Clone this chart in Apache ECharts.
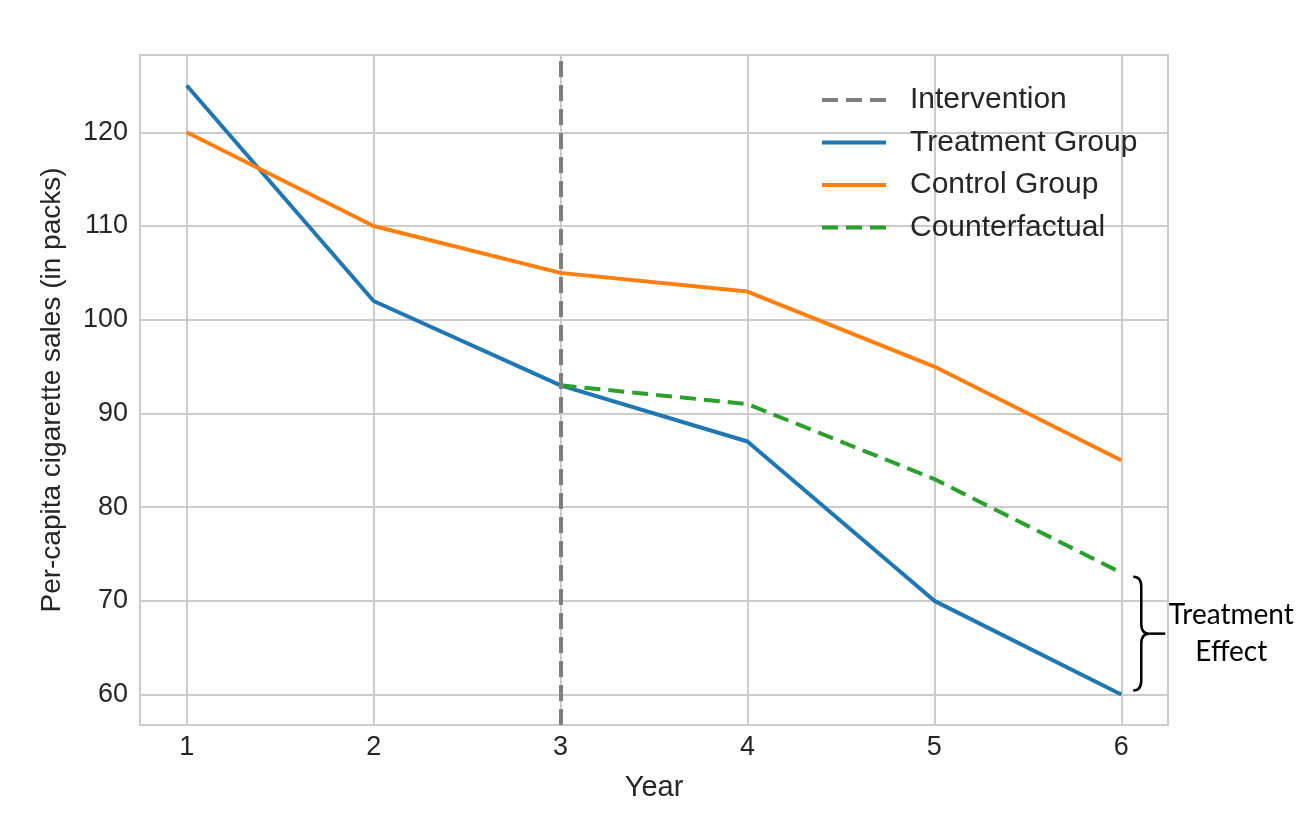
<!DOCTYPE html>
<html><head><meta charset="utf-8">
<script src="https://cdn.jsdelivr.net/npm/echarts@6/dist/echarts.min.js"></script>
<style>html,body{margin:0;padding:0;background:#fff}#c{width:1302px;height:835px}</style>
</head><body><div id="c"></div>
<script>
const years = [1, 2, 3, 4, 5, 6];
const treatment = [125, 102, 93, 87, 70, 60];
const control = [120, 110, 105, 103, 95, 85];
const cfYears = [3, 4, 5, 6];
const counterfactual = [93, 91, 83, 73];
const interventionYear = 3;
const xTicks = [1, 2, 3, 4, 5, 6];
const yTicks = [60, 70, 80, 90, 100, 110, 120];
const effectLabel = ['Treatment', 'Effect'];

const pair = (xs, ys) => xs.map((x, i) => [x, ys[i]]);
const font = "'Liberation Sans', Arial, sans-serif";
const chart = echarts.init(document.getElementById('c'));
const braceData = [[6, counterfactual[counterfactual.length - 1], treatment[treatment.length - 1]]];
const dash = [16, 8];

chart.setOption({
  animation: false,
  grid: { left: 140, right: 134, top: 55, bottom: 110, show: true, borderColor: '#cccccc', borderWidth: 2, backgroundColor: 'transparent' },
  legend: {
    orient: 'vertical', left: 815, top: 80, itemWidth: 64, itemHeight: 14, itemGap: 12.5,
    itemStyle: { opacity: 0 },
    lineStyle: { width: 4 },
    textStyle: { fontFamily: font, fontSize: 30, color: '#262626', padding: [0, 0, 0, 19] },
    data: ['Intervention', 'Treatment Group', 'Control Group', 'Counterfactual']
  },
  xAxis: {
    type: 'value', min: 0.75, max: 6.25,
    name: 'Year', nameLocation: 'middle', nameGap: 48,
    nameTextStyle: { fontFamily: font, fontSize: 29, color: '#262626' },
    axisLine: { show: false }, axisTick: { show: false, customValues: xTicks },
    axisLabel: { customValues: xTicks, fontFamily: font, fontSize: 27, color: '#262626', margin: 9 },
    splitLine: { show: true, lineStyle: { color: '#cccccc', width: 2 } }
  },
  yAxis: {
    type: 'value', min: 56.75, max: 128.25,
    name: 'Per-capita cigarette sales (in packs)', nameLocation: 'middle', nameGap: 74,
    nameTextStyle: { fontFamily: font, fontSize: 28, color: '#262626' },
    axisLine: { show: false }, axisTick: { show: false, customValues: yTicks },
    axisLabel: { customValues: yTicks, fontFamily: font, fontSize: 27, color: '#262626', margin: 12 },
    splitLine: { show: true, lineStyle: { color: '#cccccc', width: 2 } }
  },
  series: [
    { name: 'Intervention', type: 'line', data: [], symbol: 'none', color: '#808080',
      lineStyle: { color: '#808080', width: 4, type: dash },
      markLine: { silent: true, symbol: 'none', label: { show: false },
        lineStyle: { color: '#808080', width: 4, type: dash },
        data: [{ xAxis: interventionYear }] } },
    { name: 'Treatment Group', type: 'line', data: pair(years, treatment), symbol: 'none', color: '#1f77b4',
      lineStyle: { color: '#1f77b4', width: 4 } },
    { name: 'Control Group', type: 'line', data: pair(years, control), symbol: 'none', color: '#ff7f0e',
      lineStyle: { color: '#ff7f0e', width: 4 } },
    { name: 'Counterfactual', type: 'line', data: pair(cfYears, counterfactual), symbol: 'none', color: '#2ca02c',
      lineStyle: { color: '#2ca02c', width: 4, type: dash } },
    { type: 'custom', data: braceData, silent: true, clip: false,
      renderItem: function (params, api) {
        const top = api.coord([api.value(0), api.value(1)]);
        const bot = api.coord([api.value(0), api.value(2)]);
        const x = top[0] + 12, y1 = top[1] + 4, y2 = bot[1] - 4, ym = (y1 + y2) / 2;
        const w = 8;
        const path = 'M' + x + ',' + y1 +
          ' Q' + (x + w) + ',' + y1 + ' ' + (x + w) + ',' + (y1 + 10) +
          ' L' + (x + w) + ',' + (ym - 10) +
          ' Q' + (x + w) + ',' + ym + ' ' + (x + w + 8) + ',' + ym +
          ' Q' + (x + w) + ',' + ym + ' ' + (x + w) + ',' + (ym + 10) +
          ' L' + (x + w) + ',' + (y2 - 10) +
          ' Q' + (x + w) + ',' + y2 + ' ' + x + ',' + y2;
        return { type: 'group', children: [
          { type: 'path', shape: { pathData: path }, style: { fill: 'none', stroke: '#000', lineWidth: 2.5 } },
          { type: 'line', shape: { x1: x + w + 8, y1: ym, x2: x + w + 24, y2: ym }, style: { stroke: '#000', lineWidth: 2.5 } },
          { type: 'text', x: top[0] + 110, y: ym - 19, style: { text: effectLabel[0], fontFamily: 'Lato, sans-serif', fontSize: 28, fill: '#000', align: 'center', verticalAlign: 'middle' } },
          { type: 'text', x: top[0] + 110, y: ym + 18, style: { text: effectLabel[1], fontFamily: 'Lato, sans-serif', fontSize: 28, fill: '#000', align: 'center', verticalAlign: 'middle' } }
        ] };
      } }
  ]
});
</script></body></html>
